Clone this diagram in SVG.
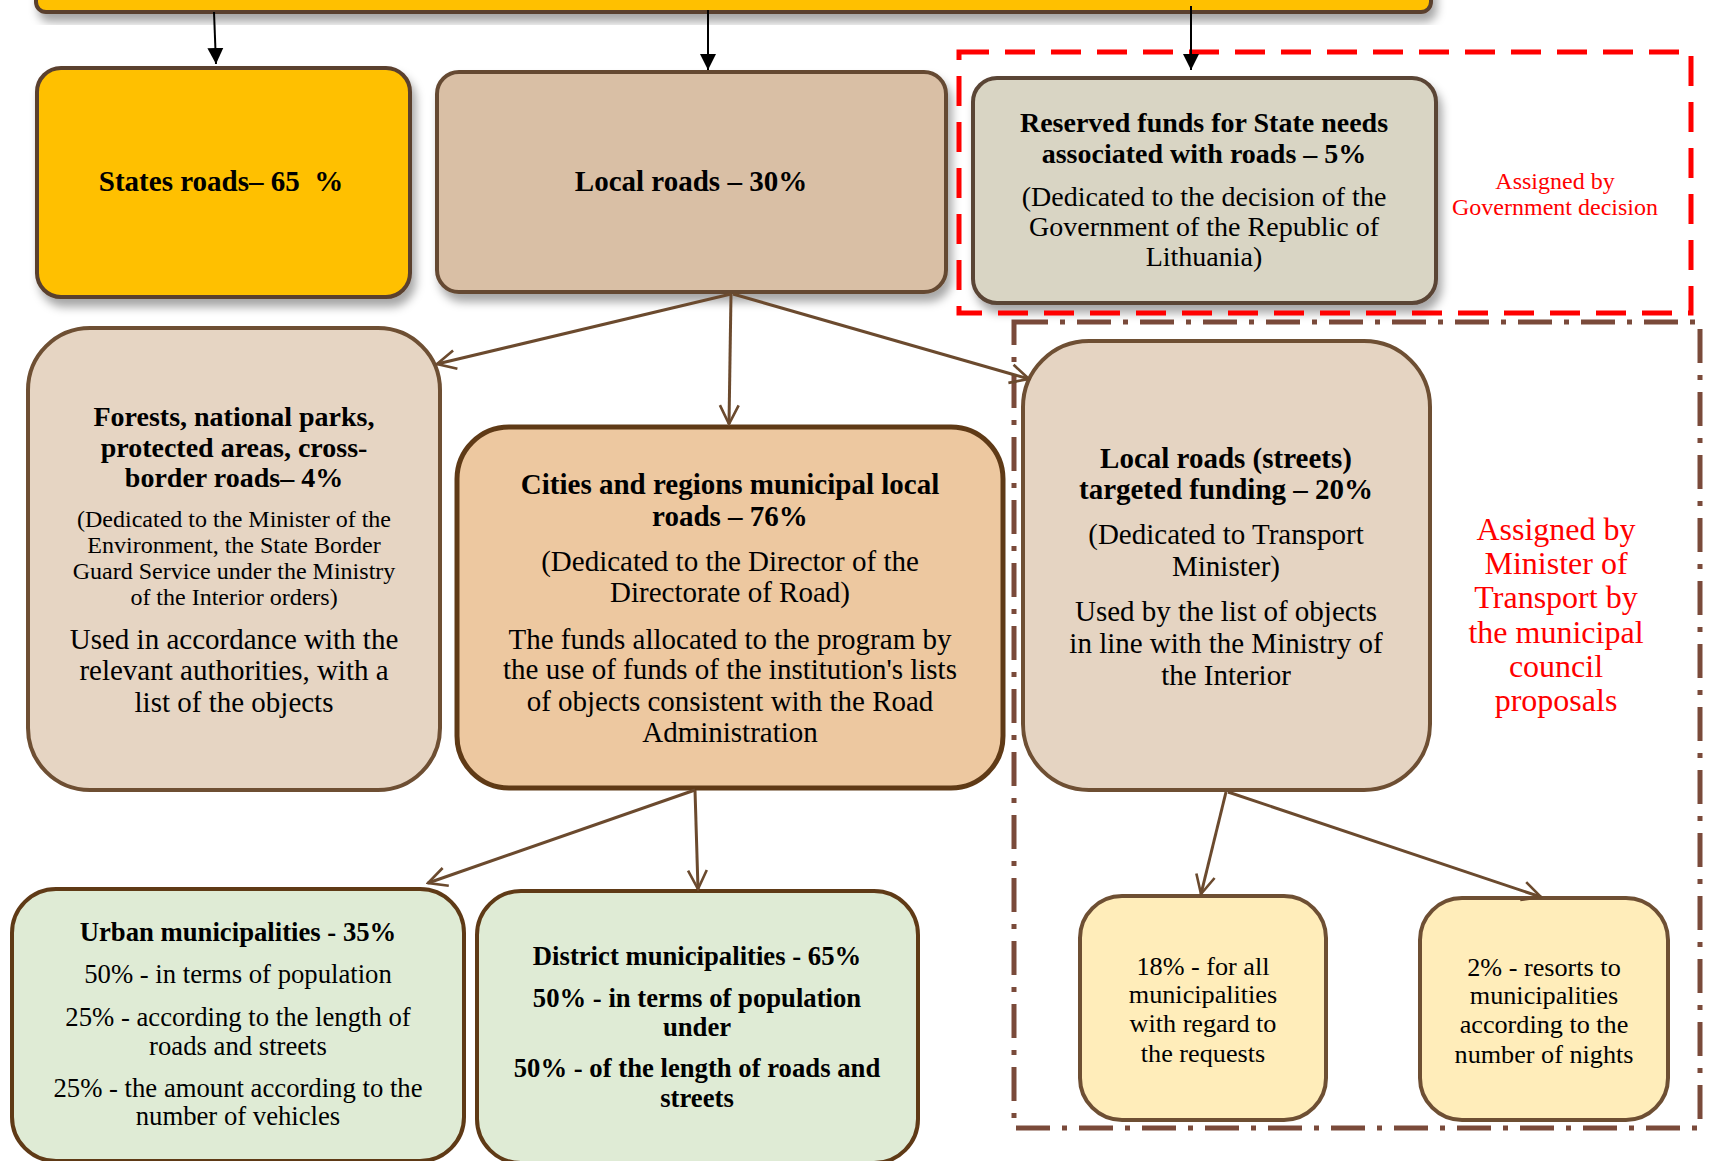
<svg xmlns="http://www.w3.org/2000/svg" width="1709" height="1161" viewBox="0 0 1709 1161">
<style>
text{font-family:"Liberation Serif","Times New Roman",serif;text-anchor:middle;fill:#000}
.b{font-weight:bold}
.t29{font-size:29px}
.t28{font-size:28px}
.t27{font-size:26.7px}
.t26{font-size:26.2px}
.t24{font-size:24px}
.red{fill:#FF0000}
.conn{stroke:#6B4A2E;stroke-width:3;fill:none}
.blk{stroke:#000;stroke-width:2;fill:none}
</style>
<defs>
<filter id="sh" x="-10%" y="-10%" width="130%" height="140%">
<feDropShadow dx="4" dy="8" stdDeviation="5" flood-color="#000" flood-opacity="0.35"/>
</filter>
<marker id="open" viewBox="0 0 12 12" refX="11" refY="6" markerWidth="7.5" markerHeight="7.5" orient="auto" markerUnits="strokeWidth">
<path d="M1,1 L11,6 L1,11" fill="none" stroke="#6B4A2E" stroke-width="1.4"/>
</marker>
<marker id="tri" viewBox="0 0 10 10" refX="10" refY="5" markerWidth="8" markerHeight="10" orient="auto" markerUnits="strokeWidth">
<path d="M0,0 L10,5 L0,10 z" fill="#000"/>
</marker>
</defs>

<rect x="1014" y="322" width="686" height="806" fill="none" stroke="#7A4A3A" stroke-width="5" stroke-dasharray="34 12 5 12"/>

<g id="top-bar">
<rect x="36" y="-30" width="1395" height="42" rx="10" fill="#FFC000" stroke="#5A3F2F" stroke-width="4" filter="url(#sh)"/>
</g>

<g id="states-roads">
<rect x="37" y="68" width="373" height="229" rx="24" fill="#FFC000" stroke="#5A3F2F" stroke-width="4" filter="url(#sh)"/>
<text class="b t29" x="221" y="191" style="white-space:pre">States roads– 65  %</text>
</g>

<g id="local-roads">
<rect x="437" y="72" width="509" height="220" rx="22" fill="#D9BFA5" stroke="#654A33" stroke-width="4" filter="url(#sh)"/>
<text class="b t29" x="691" y="191">Local roads – 30%</text>
</g>

<g id="reserved-funds">
<rect x="973" y="78" width="463" height="225" rx="24" fill="#D9D5C4" stroke="#5A4436" stroke-width="4" filter="url(#sh)"/>
<text class="b t28" x="1204" y="132">Reserved funds for State needs</text>
<text class="b t28" x="1204" y="163">associated with roads – 5%</text>
<text class="t28" x="1204" y="206">(Dedicated to the decision of the</text>
<text class="t28" x="1204" y="236">Government of the Republic of</text>
<text class="t28" x="1204" y="266">Lithuania)</text>
</g>

<rect x="959" y="52" width="732" height="261" fill="none" stroke="#FF0000" stroke-width="5" stroke-dasharray="30 16"/>
<g id="gov-label">
<text class="red" style="font-size:24px" x="1555" y="189">Assigned by</text>
<text class="red" style="font-size:24px" x="1555" y="215">Government decision</text>
</g>

<g id="forests">
<rect x="28" y="328" width="412" height="462" rx="62" fill="#E6D5C3" stroke="#6E4F33" stroke-width="4"/>
<text class="b t28" x="234" y="426">Forests, national parks,</text>
<text class="b t28" x="234" y="457">protected areas, cross-</text>
<text class="b t28" x="234" y="487">border roads– 4%</text>
<text class="t24" x="234" y="527">(Dedicated to the Minister of the</text>
<text class="t24" x="234" y="553">Environment, the State Border</text>
<text class="t24" x="234" y="579">Guard Service under the Ministry</text>
<text class="t24" x="234" y="605">of the Interior orders)</text>
<text class="t29" x="234" y="649">Used in accordance with the</text>
<text class="t29" x="234" y="680">relevant authorities, with a</text>
<text class="t29" x="234" y="712">list of the objects</text>
</g>

<g id="cities">
<rect x="457" y="427" width="546" height="361" rx="52" fill="#EDC8A0" stroke="#5F3A16" stroke-width="5"/>
<text class="b t29" x="730" y="494">Cities and regions municipal local</text>
<text class="b t29" x="730" y="526">roads – 76%</text>
<text class="t29" x="730" y="571">(Dedicated to the Director of the</text>
<text class="t29" x="730" y="602">Directorate of Road)</text>
<text class="t29" x="730" y="649">The funds allocated to the program by</text>
<text class="t29" x="730" y="679">the use of funds of the institution's lists</text>
<text class="t29" x="730" y="711">of objects consistent with the Road</text>
<text class="t29" x="730" y="742">Administration</text>
</g>

<g id="local-streets">
<rect x="1023" y="341" width="407" height="449" rx="66" fill="#E5D4C2" stroke="#6E4F33" stroke-width="4"/>
<text class="b t29" x="1226" y="468">Local roads (streets)</text>
<text class="b t29" x="1226" y="499">targeted funding – 20%</text>
<text class="t29" x="1226" y="544">(Dedicated to Transport</text>
<text class="t29" x="1226" y="576">Minister)</text>
<text class="t29" x="1226" y="621">Used by the list of objects</text>
<text class="t29" x="1226" y="653">in line with the Ministry of</text>
<text class="t29" x="1226" y="685">the Interior</text>
</g>

<g id="minister-label">
<text class="red" style="font-size:32px" x="1556" y="540">Assigned by</text>
<text class="red" style="font-size:32px" x="1556" y="574">Minister of</text>
<text class="red" style="font-size:32px" x="1556" y="608">Transport by</text>
<text class="red" style="font-size:32px" x="1556" y="643">the municipal</text>
<text class="red" style="font-size:32px" x="1556" y="677">council</text>
<text class="red" style="font-size:32px" x="1556" y="711">proposals</text>
</g>

<g id="urban">
<rect x="12" y="889" width="452" height="272" rx="44" fill="#DFEBD5" stroke="#5F3A16" stroke-width="4"/>
<text class="b t27" x="238" y="941">Urban municipalities - 35%</text>
<text class="t27" x="238" y="983">50% - in terms of population</text>
<text class="t27" x="238" y="1026">25% - according to the length of</text>
<text class="t27" x="238" y="1055">roads and streets</text>
<text class="t27" x="238" y="1097">25% - the amount according to the</text>
<text class="t27" x="238" y="1125">number of vehicles</text>
</g>

<g id="district">
<rect x="477" y="891" width="441" height="272" rx="44" fill="#DFEBD5" stroke="#5F3A16" stroke-width="4"/>
<text class="b t27" x="697" y="965">District municipalities - 65%</text>
<text class="b t27" x="697" y="1007">50% - in terms of population</text>
<text class="b t27" x="697" y="1036">under</text>
<text class="b t27" x="697" y="1077">50% - of the length of roads and</text>
<text class="b t27" x="697" y="1107">streets</text>
</g>

<g id="pct18">
<rect x="1080" y="896" width="246" height="224" rx="42" fill="#FFEDBA" stroke="#6E4F33" stroke-width="4"/>
<text class="t26" x="1203" y="975">18% - for all</text>
<text class="t26" x="1203" y="1003">municipalities</text>
<text class="t26" x="1203" y="1032">with regard to</text>
<text class="t26" x="1203" y="1062">the requests</text>
</g>

<g id="pct2">
<rect x="1420" y="898" width="248" height="222" rx="42" fill="#FFEDBA" stroke="#6E4F33" stroke-width="4"/>
<text class="t26" x="1544" y="976">2% - resorts to</text>
<text class="t26" x="1544" y="1004">municipalities</text>
<text class="t26" x="1544" y="1033">according to the</text>
<text class="t26" x="1544" y="1063">number of nights</text>
</g>

<g id="connectors">
<line class="blk" x1="214" y1="12" x2="216" y2="64" marker-end="url(#tri)"/>
<line class="blk" x1="708" y1="10" x2="708" y2="70" marker-end="url(#tri)"/>
<line class="blk" x1="1191" y1="6" x2="1191" y2="70" marker-end="url(#tri)"/>
<line class="conn" x1="731" y1="294" x2="437" y2="364" marker-end="url(#open)"/>
<line class="conn" x1="731" y1="294" x2="729" y2="424" marker-end="url(#open)"/>
<line class="conn" x1="733" y1="294" x2="1029" y2="379" marker-end="url(#open)"/>
<line class="conn" x1="695" y1="790" x2="428" y2="883" marker-end="url(#open)"/>
<line class="conn" x1="695" y1="790" x2="698" y2="889" marker-end="url(#open)"/>
<line class="conn" x1="1226" y1="792" x2="1201" y2="894" marker-end="url(#open)"/>
<line class="conn" x1="1228" y1="792" x2="1541" y2="897" marker-end="url(#open)"/>
</g>
</svg>
